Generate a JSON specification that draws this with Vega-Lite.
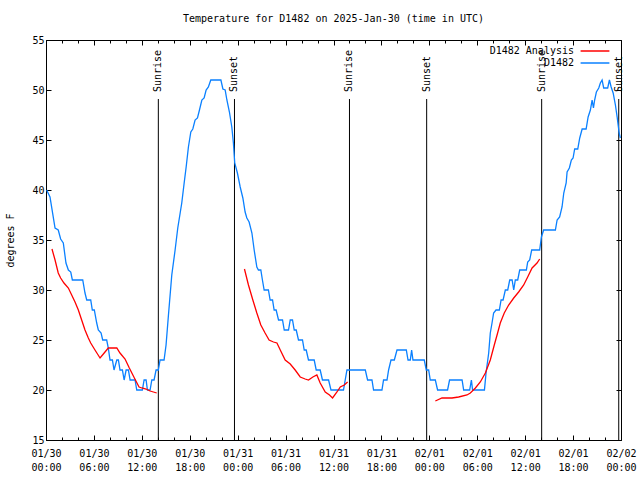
{
  "$schema": "https://vega.github.io/schema/vega-lite/v6.json",
  "width": 575,
  "height": 400,
  "autosize": "none",
  "padding": {"left": 46, "top": 40, "right": 19, "bottom": 40},
  "background": "white",
  "title": {"text": "Temperature for D1482 on 2025-Jan-30 (time in UTC)", "font": "DejaVu Sans Mono", "fontSize": 10, "fontWeight": "normal", "color": "black", "offset": 11, "anchor": "middle"},
  "config": {
    "view": {"stroke": "black", "strokeWidth": 1},
    "axis": {"labelFont": "DejaVu Sans Mono", "labelFontSize": 10, "labelColor": "black", "titleFont": "DejaVu Sans Mono", "titleFontSize": 10, "titleFontWeight": "normal", "titleColor": "black", "tickColor": "black", "domain": false, "grid": false, "labelFlush": false, "labelOverlap": false},
    "legend": {"labelFont": "DejaVu Sans Mono", "labelFontSize": 10, "labelColor": "black"}
  },
  "datasets": {
    "series": [
      {"t": "2025-01-30T00:05:00Z", "v": 40, "s": "D1482", "g": "b"},
      {"t": "2025-01-30T00:30:00Z", "v": 39.3, "s": "D1482", "g": "b"},
      {"t": "2025-01-30T01:08:00Z", "v": 36.2, "s": "D1482", "g": "b"},
      {"t": "2025-01-30T01:32:00Z", "v": 36, "s": "D1482", "g": "b"},
      {"t": "2025-01-30T01:50:00Z", "v": 35.1, "s": "D1482", "g": "b"},
      {"t": "2025-01-30T02:10:00Z", "v": 34.7, "s": "D1482", "g": "b"},
      {"t": "2025-01-30T02:30:00Z", "v": 32.7, "s": "D1482", "g": "b"},
      {"t": "2025-01-30T02:48:00Z", "v": 32, "s": "D1482", "g": "b"},
      {"t": "2025-01-30T03:06:00Z", "v": 31.8, "s": "D1482", "g": "b"},
      {"t": "2025-01-30T03:18:00Z", "v": 31, "s": "D1482", "g": "b"},
      {"t": "2025-01-30T04:36:00Z", "v": 31, "s": "D1482", "g": "b"},
      {"t": "2025-01-30T04:53:00Z", "v": 29.7, "s": "D1482", "g": "b"},
      {"t": "2025-01-30T05:06:00Z", "v": 29, "s": "D1482", "g": "b"},
      {"t": "2025-01-30T05:36:00Z", "v": 29, "s": "D1482", "g": "b"},
      {"t": "2025-01-30T05:48:00Z", "v": 28, "s": "D1482", "g": "b"},
      {"t": "2025-01-30T06:03:00Z", "v": 28, "s": "D1482", "g": "b"},
      {"t": "2025-01-30T06:21:00Z", "v": 26.7, "s": "D1482", "g": "b"},
      {"t": "2025-01-30T06:33:00Z", "v": 26, "s": "D1482", "g": "b"},
      {"t": "2025-01-30T06:54:00Z", "v": 25.7, "s": "D1482", "g": "b"},
      {"t": "2025-01-30T07:06:00Z", "v": 25, "s": "D1482", "g": "b"},
      {"t": "2025-01-30T07:36:00Z", "v": 25, "s": "D1482", "g": "b"},
      {"t": "2025-01-30T07:48:00Z", "v": 24.2, "s": "D1482", "g": "b"},
      {"t": "2025-01-30T08:01:00Z", "v": 23, "s": "D1482", "g": "b"},
      {"t": "2025-01-30T08:19:00Z", "v": 23, "s": "D1482", "g": "b"},
      {"t": "2025-01-30T08:31:00Z", "v": 22, "s": "D1482", "g": "b"},
      {"t": "2025-01-30T08:52:00Z", "v": 23, "s": "D1482", "g": "b"},
      {"t": "2025-01-30T09:04:00Z", "v": 23, "s": "D1482", "g": "b"},
      {"t": "2025-01-30T09:16:00Z", "v": 22, "s": "D1482", "g": "b"},
      {"t": "2025-01-30T09:34:00Z", "v": 22, "s": "D1482", "g": "b"},
      {"t": "2025-01-30T09:47:00Z", "v": 21, "s": "D1482", "g": "b"},
      {"t": "2025-01-30T10:02:00Z", "v": 22, "s": "D1482", "g": "b"},
      {"t": "2025-01-30T10:19:00Z", "v": 22, "s": "D1482", "g": "b"},
      {"t": "2025-01-30T10:32:00Z", "v": 21, "s": "D1482", "g": "b"},
      {"t": "2025-01-30T11:09:00Z", "v": 21, "s": "D1482", "g": "b"},
      {"t": "2025-01-30T11:22:00Z", "v": 20, "s": "D1482", "g": "b"},
      {"t": "2025-01-30T12:04:00Z", "v": 20, "s": "D1482", "g": "b"},
      {"t": "2025-01-30T12:17:00Z", "v": 21, "s": "D1482", "g": "b"},
      {"t": "2025-01-30T12:32:00Z", "v": 21, "s": "D1482", "g": "b"},
      {"t": "2025-01-30T12:42:00Z", "v": 20, "s": "D1482", "g": "b"},
      {"t": "2025-01-30T13:02:00Z", "v": 20, "s": "D1482", "g": "b"},
      {"t": "2025-01-30T13:15:00Z", "v": 21, "s": "D1482", "g": "b"},
      {"t": "2025-01-30T13:32:00Z", "v": 21, "s": "D1482", "g": "b"},
      {"t": "2025-01-30T13:47:00Z", "v": 22, "s": "D1482", "g": "b"},
      {"t": "2025-01-30T14:04:00Z", "v": 22, "s": "D1482", "g": "b"},
      {"t": "2025-01-30T14:17:00Z", "v": 23, "s": "D1482", "g": "b"},
      {"t": "2025-01-30T14:47:00Z", "v": 23, "s": "D1482", "g": "b"},
      {"t": "2025-01-30T15:02:00Z", "v": 24.5, "s": "D1482", "g": "b"},
      {"t": "2025-01-30T15:20:00Z", "v": 27.5, "s": "D1482", "g": "b"},
      {"t": "2025-01-30T15:45:00Z", "v": 31.5, "s": "D1482", "g": "b"},
      {"t": "2025-01-30T16:10:00Z", "v": 34, "s": "D1482", "g": "b"},
      {"t": "2025-01-30T16:30:00Z", "v": 36.2, "s": "D1482", "g": "b"},
      {"t": "2025-01-30T16:48:00Z", "v": 37.7, "s": "D1482", "g": "b"},
      {"t": "2025-01-30T17:00:00Z", "v": 38.7, "s": "D1482", "g": "b"},
      {"t": "2025-01-30T17:18:00Z", "v": 40.7, "s": "D1482", "g": "b"},
      {"t": "2025-01-30T17:33:00Z", "v": 42.3, "s": "D1482", "g": "b"},
      {"t": "2025-01-30T17:50:00Z", "v": 44.3, "s": "D1482", "g": "b"},
      {"t": "2025-01-30T18:08:00Z", "v": 45.8, "s": "D1482", "g": "b"},
      {"t": "2025-01-30T18:23:00Z", "v": 46.1, "s": "D1482", "g": "b"},
      {"t": "2025-01-30T18:40:00Z", "v": 47, "s": "D1482", "g": "b"},
      {"t": "2025-01-30T18:58:00Z", "v": 47.2, "s": "D1482", "g": "b"},
      {"t": "2025-01-30T19:13:00Z", "v": 48, "s": "D1482", "g": "b"},
      {"t": "2025-01-30T19:31:00Z", "v": 49, "s": "D1482", "g": "b"},
      {"t": "2025-01-30T19:48:00Z", "v": 49.2, "s": "D1482", "g": "b"},
      {"t": "2025-01-30T20:03:00Z", "v": 50, "s": "D1482", "g": "b"},
      {"t": "2025-01-30T20:20:00Z", "v": 50.3, "s": "D1482", "g": "b"},
      {"t": "2025-01-30T20:38:00Z", "v": 51, "s": "D1482", "g": "b"},
      {"t": "2025-01-30T21:54:00Z", "v": 51, "s": "D1482", "g": "b"},
      {"t": "2025-01-30T22:09:00Z", "v": 50.1, "s": "D1482", "g": "b"},
      {"t": "2025-01-30T22:26:00Z", "v": 50, "s": "D1482", "g": "b"},
      {"t": "2025-01-30T22:39:00Z", "v": 49, "s": "D1482", "g": "b"},
      {"t": "2025-01-30T22:58:00Z", "v": 47.8, "s": "D1482", "g": "b"},
      {"t": "2025-01-30T23:16:00Z", "v": 46.3, "s": "D1482", "g": "b"},
      {"t": "2025-01-30T23:28:00Z", "v": 44.7, "s": "D1482", "g": "b"},
      {"t": "2025-01-30T23:38:00Z", "v": 42.7, "s": "D1482", "g": "b"},
      {"t": "2025-01-30T23:58:00Z", "v": 41.7, "s": "D1482", "g": "b"},
      {"t": "2025-01-31T00:19:00Z", "v": 40.3, "s": "D1482", "g": "b"},
      {"t": "2025-01-31T00:39:00Z", "v": 39.2, "s": "D1482", "g": "b"},
      {"t": "2025-01-31T00:56:00Z", "v": 37.8, "s": "D1482", "g": "b"},
      {"t": "2025-01-31T01:09:00Z", "v": 37.2, "s": "D1482", "g": "b"},
      {"t": "2025-01-31T01:26:00Z", "v": 36.8, "s": "D1482", "g": "b"},
      {"t": "2025-01-31T01:47:00Z", "v": 35.7, "s": "D1482", "g": "b"},
      {"t": "2025-01-31T02:04:00Z", "v": 34, "s": "D1482", "g": "b"},
      {"t": "2025-01-31T02:24:00Z", "v": 32.3, "s": "D1482", "g": "b"},
      {"t": "2025-01-31T02:36:00Z", "v": 32, "s": "D1482", "g": "b"},
      {"t": "2025-01-31T02:54:00Z", "v": 32, "s": "D1482", "g": "b"},
      {"t": "2025-01-31T03:06:00Z", "v": 31, "s": "D1482", "g": "b"},
      {"t": "2025-01-31T03:19:00Z", "v": 30, "s": "D1482", "g": "b"},
      {"t": "2025-01-31T03:51:00Z", "v": 30, "s": "D1482", "g": "b"},
      {"t": "2025-01-31T04:04:00Z", "v": 29, "s": "D1482", "g": "b"},
      {"t": "2025-01-31T04:22:00Z", "v": 29, "s": "D1482", "g": "b"},
      {"t": "2025-01-31T04:34:00Z", "v": 28, "s": "D1482", "g": "b"},
      {"t": "2025-01-31T04:49:00Z", "v": 28, "s": "D1482", "g": "b"},
      {"t": "2025-01-31T05:07:00Z", "v": 27, "s": "D1482", "g": "b"},
      {"t": "2025-01-31T05:37:00Z", "v": 27, "s": "D1482", "g": "b"},
      {"t": "2025-01-31T05:50:00Z", "v": 26, "s": "D1482", "g": "b"},
      {"t": "2025-01-31T06:22:00Z", "v": 26, "s": "D1482", "g": "b"},
      {"t": "2025-01-31T06:35:00Z", "v": 27, "s": "D1482", "g": "b"},
      {"t": "2025-01-31T06:52:00Z", "v": 27, "s": "D1482", "g": "b"},
      {"t": "2025-01-31T07:05:00Z", "v": 26, "s": "D1482", "g": "b"},
      {"t": "2025-01-31T07:20:00Z", "v": 26, "s": "D1482", "g": "b"},
      {"t": "2025-01-31T07:37:00Z", "v": 25, "s": "D1482", "g": "b"},
      {"t": "2025-01-31T08:07:00Z", "v": 25, "s": "D1482", "g": "b"},
      {"t": "2025-01-31T08:20:00Z", "v": 24, "s": "D1482", "g": "b"},
      {"t": "2025-01-31T08:35:00Z", "v": 24, "s": "D1482", "g": "b"},
      {"t": "2025-01-31T08:52:00Z", "v": 23, "s": "D1482", "g": "b"},
      {"t": "2025-01-31T09:35:00Z", "v": 23, "s": "D1482", "g": "b"},
      {"t": "2025-01-31T09:50:00Z", "v": 22, "s": "D1482", "g": "b"},
      {"t": "2025-01-31T10:20:00Z", "v": 22, "s": "D1482", "g": "b"},
      {"t": "2025-01-31T10:37:00Z", "v": 21, "s": "D1482", "g": "b"},
      {"t": "2025-01-31T11:23:00Z", "v": 21, "s": "D1482", "g": "b"},
      {"t": "2025-01-31T11:41:00Z", "v": 20, "s": "D1482", "g": "b"},
      {"t": "2025-01-31T13:15:00Z", "v": 20, "s": "D1482", "g": "b"},
      {"t": "2025-01-31T13:28:00Z", "v": 21, "s": "D1482", "g": "b"},
      {"t": "2025-01-31T13:41:00Z", "v": 22, "s": "D1482", "g": "b"},
      {"t": "2025-01-31T15:59:00Z", "v": 22, "s": "D1482", "g": "b"},
      {"t": "2025-01-31T16:16:00Z", "v": 21, "s": "D1482", "g": "b"},
      {"t": "2025-01-31T16:49:00Z", "v": 21, "s": "D1482", "g": "b"},
      {"t": "2025-01-31T17:01:00Z", "v": 20, "s": "D1482", "g": "b"},
      {"t": "2025-01-31T18:04:00Z", "v": 20, "s": "D1482", "g": "b"},
      {"t": "2025-01-31T18:16:00Z", "v": 21, "s": "D1482", "g": "b"},
      {"t": "2025-01-31T18:42:00Z", "v": 21, "s": "D1482", "g": "b"},
      {"t": "2025-01-31T18:54:00Z", "v": 22, "s": "D1482", "g": "b"},
      {"t": "2025-01-31T19:12:00Z", "v": 23, "s": "D1482", "g": "b"},
      {"t": "2025-01-31T19:37:00Z", "v": 23, "s": "D1482", "g": "b"},
      {"t": "2025-01-31T19:57:00Z", "v": 24, "s": "D1482", "g": "b"},
      {"t": "2025-01-31T21:07:00Z", "v": 24, "s": "D1482", "g": "b"},
      {"t": "2025-01-31T21:20:00Z", "v": 23, "s": "D1482", "g": "b"},
      {"t": "2025-01-31T21:37:00Z", "v": 23, "s": "D1482", "g": "b"},
      {"t": "2025-01-31T21:47:00Z", "v": 24, "s": "D1482", "g": "b"},
      {"t": "2025-01-31T21:57:00Z", "v": 23, "s": "D1482", "g": "b"},
      {"t": "2025-01-31T23:22:00Z", "v": 23, "s": "D1482", "g": "b"},
      {"t": "2025-01-31T23:37:00Z", "v": 22, "s": "D1482", "g": "b"},
      {"t": "2025-01-31T23:55:00Z", "v": 22, "s": "D1482", "g": "b"},
      {"t": "2025-02-01T00:07:00Z", "v": 21, "s": "D1482", "g": "b"},
      {"t": "2025-02-01T00:45:00Z", "v": 21, "s": "D1482", "g": "b"},
      {"t": "2025-02-01T01:02:00Z", "v": 20, "s": "D1482", "g": "b"},
      {"t": "2025-02-01T02:17:00Z", "v": 20, "s": "D1482", "g": "b"},
      {"t": "2025-02-01T02:32:00Z", "v": 21, "s": "D1482", "g": "b"},
      {"t": "2025-02-01T04:06:00Z", "v": 21, "s": "D1482", "g": "b"},
      {"t": "2025-02-01T04:18:00Z", "v": 20, "s": "D1482", "g": "b"},
      {"t": "2025-02-01T05:03:00Z", "v": 20, "s": "D1482", "g": "b"},
      {"t": "2025-02-01T05:16:00Z", "v": 21, "s": "D1482", "g": "b"},
      {"t": "2025-02-01T05:25:00Z", "v": 20, "s": "D1482", "g": "b"},
      {"t": "2025-02-01T06:54:00Z", "v": 20, "s": "D1482", "g": "b"},
      {"t": "2025-02-01T07:06:00Z", "v": 21.7, "s": "D1482", "g": "b"},
      {"t": "2025-02-01T07:26:00Z", "v": 23.7, "s": "D1482", "g": "b"},
      {"t": "2025-02-01T07:38:00Z", "v": 25.7, "s": "D1482", "g": "b"},
      {"t": "2025-02-01T07:51:00Z", "v": 26.7, "s": "D1482", "g": "b"},
      {"t": "2025-02-01T08:03:00Z", "v": 27.7, "s": "D1482", "g": "b"},
      {"t": "2025-02-01T08:21:00Z", "v": 28, "s": "D1482", "g": "b"},
      {"t": "2025-02-01T08:46:00Z", "v": 28, "s": "D1482", "g": "b"},
      {"t": "2025-02-01T08:59:00Z", "v": 29, "s": "D1482", "g": "b"},
      {"t": "2025-02-01T09:14:00Z", "v": 29, "s": "D1482", "g": "b"},
      {"t": "2025-02-01T09:31:00Z", "v": 30, "s": "D1482", "g": "b"},
      {"t": "2025-02-01T09:49:00Z", "v": 30, "s": "D1482", "g": "b"},
      {"t": "2025-02-01T10:04:00Z", "v": 31, "s": "D1482", "g": "b"},
      {"t": "2025-02-01T10:22:00Z", "v": 31, "s": "D1482", "g": "b"},
      {"t": "2025-02-01T10:34:00Z", "v": 30, "s": "D1482", "g": "b"},
      {"t": "2025-02-01T10:46:00Z", "v": 31, "s": "D1482", "g": "b"},
      {"t": "2025-02-01T11:04:00Z", "v": 31, "s": "D1482", "g": "b"},
      {"t": "2025-02-01T11:19:00Z", "v": 32, "s": "D1482", "g": "b"},
      {"t": "2025-02-01T12:09:00Z", "v": 32, "s": "D1482", "g": "b"},
      {"t": "2025-02-01T12:19:00Z", "v": 32.8, "s": "D1482", "g": "b"},
      {"t": "2025-02-01T12:34:00Z", "v": 33, "s": "D1482", "g": "b"},
      {"t": "2025-02-01T12:49:00Z", "v": 34, "s": "D1482", "g": "b"},
      {"t": "2025-02-01T13:49:00Z", "v": 34, "s": "D1482", "g": "b"},
      {"t": "2025-02-01T14:02:00Z", "v": 35.3, "s": "D1482", "g": "b"},
      {"t": "2025-02-01T14:19:00Z", "v": 36, "s": "D1482", "g": "b"},
      {"t": "2025-02-01T15:47:00Z", "v": 36, "s": "D1482", "g": "b"},
      {"t": "2025-02-01T16:00:00Z", "v": 37, "s": "D1482", "g": "b"},
      {"t": "2025-02-01T16:19:00Z", "v": 37.3, "s": "D1482", "g": "b"},
      {"t": "2025-02-01T16:37:00Z", "v": 38.3, "s": "D1482", "g": "b"},
      {"t": "2025-02-01T16:50:00Z", "v": 39.7, "s": "D1482", "g": "b"},
      {"t": "2025-02-01T17:08:00Z", "v": 40.7, "s": "D1482", "g": "b"},
      {"t": "2025-02-01T17:15:00Z", "v": 41.8, "s": "D1482", "g": "b"},
      {"t": "2025-02-01T17:32:00Z", "v": 42.2, "s": "D1482", "g": "b"},
      {"t": "2025-02-01T17:47:00Z", "v": 43, "s": "D1482", "g": "b"},
      {"t": "2025-02-01T18:00:00Z", "v": 43.2, "s": "D1482", "g": "b"},
      {"t": "2025-02-01T18:12:00Z", "v": 44.1, "s": "D1482", "g": "b"},
      {"t": "2025-02-01T18:35:00Z", "v": 44.1, "s": "D1482", "g": "b"},
      {"t": "2025-02-01T18:50:00Z", "v": 45.2, "s": "D1482", "g": "b"},
      {"t": "2025-02-01T19:08:00Z", "v": 46.1, "s": "D1482", "g": "b"},
      {"t": "2025-02-01T19:38:00Z", "v": 46.1, "s": "D1482", "g": "b"},
      {"t": "2025-02-01T19:53:00Z", "v": 47.3, "s": "D1482", "g": "b"},
      {"t": "2025-02-01T20:10:00Z", "v": 48, "s": "D1482", "g": "b"},
      {"t": "2025-02-01T20:23:00Z", "v": 49, "s": "D1482", "g": "b"},
      {"t": "2025-02-01T20:33:00Z", "v": 48.2, "s": "D1482", "g": "b"},
      {"t": "2025-02-01T20:42:00Z", "v": 49, "s": "D1482", "g": "b"},
      {"t": "2025-02-01T20:55:00Z", "v": 49.8, "s": "D1482", "g": "b"},
      {"t": "2025-02-01T21:13:00Z", "v": 50.2, "s": "D1482", "g": "b"},
      {"t": "2025-02-01T21:25:00Z", "v": 50.7, "s": "D1482", "g": "b"},
      {"t": "2025-02-01T21:38:00Z", "v": 51, "s": "D1482", "g": "b"},
      {"t": "2025-02-01T21:50:00Z", "v": 50.2, "s": "D1482", "g": "b"},
      {"t": "2025-02-01T22:20:00Z", "v": 50.2, "s": "D1482", "g": "b"},
      {"t": "2025-02-01T22:33:00Z", "v": 51, "s": "D1482", "g": "b"},
      {"t": "2025-02-01T22:46:00Z", "v": 50.3, "s": "D1482", "g": "b"},
      {"t": "2025-02-01T23:01:00Z", "v": 49.7, "s": "D1482", "g": "b"},
      {"t": "2025-02-01T23:18:00Z", "v": 48.5, "s": "D1482", "g": "b"},
      {"t": "2025-02-01T23:31:00Z", "v": 47.3, "s": "D1482", "g": "b"},
      {"t": "2025-02-01T23:46:00Z", "v": 45.7, "s": "D1482", "g": "b"},
      {"t": "2025-02-01T23:55:00Z", "v": 45.2, "s": "D1482", "g": "b"},
      {"t": "2025-01-30T00:45:00Z", "v": 34.1, "s": "D1482 Analysis", "g": "r1"},
      {"t": "2025-01-30T01:08:00Z", "v": 33, "s": "D1482 Analysis", "g": "r1"},
      {"t": "2025-01-30T01:32:00Z", "v": 31.7, "s": "D1482 Analysis", "g": "r1"},
      {"t": "2025-01-30T01:50:00Z", "v": 31.2, "s": "D1482 Analysis", "g": "r1"},
      {"t": "2025-01-30T02:15:00Z", "v": 30.7, "s": "D1482 Analysis", "g": "r1"},
      {"t": "2025-01-30T02:48:00Z", "v": 30.2, "s": "D1482 Analysis", "g": "r1"},
      {"t": "2025-01-30T03:13:00Z", "v": 29.5, "s": "D1482 Analysis", "g": "r1"},
      {"t": "2025-01-30T03:38:00Z", "v": 28.8, "s": "D1482 Analysis", "g": "r1"},
      {"t": "2025-01-30T04:03:00Z", "v": 28, "s": "D1482 Analysis", "g": "r1"},
      {"t": "2025-01-30T04:28:00Z", "v": 27, "s": "D1482 Analysis", "g": "r1"},
      {"t": "2025-01-30T04:53:00Z", "v": 26, "s": "D1482 Analysis", "g": "r1"},
      {"t": "2025-01-30T05:18:00Z", "v": 25.2, "s": "D1482 Analysis", "g": "r1"},
      {"t": "2025-01-30T05:36:00Z", "v": 24.7, "s": "D1482 Analysis", "g": "r1"},
      {"t": "2025-01-30T06:08:00Z", "v": 24, "s": "D1482 Analysis", "g": "r1"},
      {"t": "2025-01-30T06:46:00Z", "v": 23.2, "s": "D1482 Analysis", "g": "r1"},
      {"t": "2025-01-30T07:11:00Z", "v": 23.6, "s": "D1482 Analysis", "g": "r1"},
      {"t": "2025-01-30T07:48:00Z", "v": 24.2, "s": "D1482 Analysis", "g": "r1"},
      {"t": "2025-01-30T08:52:00Z", "v": 24.2, "s": "D1482 Analysis", "g": "r1"},
      {"t": "2025-01-30T09:16:00Z", "v": 23.7, "s": "D1482 Analysis", "g": "r1"},
      {"t": "2025-01-30T09:54:00Z", "v": 23.1, "s": "D1482 Analysis", "g": "r1"},
      {"t": "2025-01-30T10:26:00Z", "v": 22.2, "s": "D1482 Analysis", "g": "r1"},
      {"t": "2025-01-30T11:04:00Z", "v": 21.2, "s": "D1482 Analysis", "g": "r1"},
      {"t": "2025-01-30T11:39:00Z", "v": 20.3, "s": "D1482 Analysis", "g": "r1"},
      {"t": "2025-01-30T12:00:00Z", "v": 20.2, "s": "D1482 Analysis", "g": "r1"},
      {"t": "2025-01-30T12:32:00Z", "v": 20.1, "s": "D1482 Analysis", "g": "r1"},
      {"t": "2025-01-30T13:02:00Z", "v": 19.9, "s": "D1482 Analysis", "g": "r1"},
      {"t": "2025-01-30T13:27:00Z", "v": 19.8, "s": "D1482 Analysis", "g": "r1"},
      {"t": "2025-01-30T13:52:00Z", "v": 19.7, "s": "D1482 Analysis", "g": "r1"},
      {"t": "2025-01-31T00:51:00Z", "v": 32.1, "s": "D1482 Analysis", "g": "r2"},
      {"t": "2025-01-31T01:21:00Z", "v": 30.5, "s": "D1482 Analysis", "g": "r2"},
      {"t": "2025-01-31T01:54:00Z", "v": 29, "s": "D1482 Analysis", "g": "r2"},
      {"t": "2025-01-31T02:24:00Z", "v": 27.7, "s": "D1482 Analysis", "g": "r2"},
      {"t": "2025-01-31T02:54:00Z", "v": 26.5, "s": "D1482 Analysis", "g": "r2"},
      {"t": "2025-01-31T03:26:00Z", "v": 25.7, "s": "D1482 Analysis", "g": "r2"},
      {"t": "2025-01-31T03:56:00Z", "v": 25, "s": "D1482 Analysis", "g": "r2"},
      {"t": "2025-01-31T04:29:00Z", "v": 24.8, "s": "D1482 Analysis", "g": "r2"},
      {"t": "2025-01-31T04:55:00Z", "v": 24.7, "s": "D1482 Analysis", "g": "r2"},
      {"t": "2025-01-31T05:20:00Z", "v": 24, "s": "D1482 Analysis", "g": "r2"},
      {"t": "2025-01-31T05:57:00Z", "v": 23, "s": "D1482 Analysis", "g": "r2"},
      {"t": "2025-01-31T06:35:00Z", "v": 22.6, "s": "D1482 Analysis", "g": "r2"},
      {"t": "2025-01-31T07:12:00Z", "v": 22, "s": "D1482 Analysis", "g": "r2"},
      {"t": "2025-01-31T07:50:00Z", "v": 21.3, "s": "D1482 Analysis", "g": "r2"},
      {"t": "2025-01-31T08:27:00Z", "v": 21.1, "s": "D1482 Analysis", "g": "r2"},
      {"t": "2025-01-31T08:52:00Z", "v": 21, "s": "D1482 Analysis", "g": "r2"},
      {"t": "2025-01-31T09:25:00Z", "v": 21.3, "s": "D1482 Analysis", "g": "r2"},
      {"t": "2025-01-31T09:55:00Z", "v": 21.5, "s": "D1482 Analysis", "g": "r2"},
      {"t": "2025-01-31T10:20:00Z", "v": 20.7, "s": "D1482 Analysis", "g": "r2"},
      {"t": "2025-01-31T10:58:00Z", "v": 19.8, "s": "D1482 Analysis", "g": "r2"},
      {"t": "2025-01-31T11:30:00Z", "v": 19.5, "s": "D1482 Analysis", "g": "r2"},
      {"t": "2025-01-31T11:53:00Z", "v": 19.2, "s": "D1482 Analysis", "g": "r2"},
      {"t": "2025-01-31T12:26:00Z", "v": 19.8, "s": "D1482 Analysis", "g": "r2"},
      {"t": "2025-01-31T12:51:00Z", "v": 20.3, "s": "D1482 Analysis", "g": "r2"},
      {"t": "2025-01-31T13:21:00Z", "v": 20.5, "s": "D1482 Analysis", "g": "r2"},
      {"t": "2025-01-31T13:46:00Z", "v": 20.8, "s": "D1482 Analysis", "g": "r2"},
      {"t": "2025-02-01T00:45:00Z", "v": 18.9, "s": "D1482 Analysis", "g": "r3"},
      {"t": "2025-02-01T01:35:00Z", "v": 19.2, "s": "D1482 Analysis", "g": "r3"},
      {"t": "2025-02-01T02:50:00Z", "v": 19.2, "s": "D1482 Analysis", "g": "r3"},
      {"t": "2025-02-01T03:40:00Z", "v": 19.3, "s": "D1482 Analysis", "g": "r3"},
      {"t": "2025-02-01T04:43:00Z", "v": 19.5, "s": "D1482 Analysis", "g": "r3"},
      {"t": "2025-02-01T05:08:00Z", "v": 19.7, "s": "D1482 Analysis", "g": "r3"},
      {"t": "2025-02-01T05:46:00Z", "v": 20.2, "s": "D1482 Analysis", "g": "r3"},
      {"t": "2025-02-01T06:23:00Z", "v": 20.8, "s": "D1482 Analysis", "g": "r3"},
      {"t": "2025-02-01T07:01:00Z", "v": 21.7, "s": "D1482 Analysis", "g": "r3"},
      {"t": "2025-02-01T07:38:00Z", "v": 23, "s": "D1482 Analysis", "g": "r3"},
      {"t": "2025-02-01T08:08:00Z", "v": 24.5, "s": "D1482 Analysis", "g": "r3"},
      {"t": "2025-02-01T08:33:00Z", "v": 25.7, "s": "D1482 Analysis", "g": "r3"},
      {"t": "2025-02-01T08:53:00Z", "v": 26.7, "s": "D1482 Analysis", "g": "r3"},
      {"t": "2025-02-01T09:23:00Z", "v": 27.7, "s": "D1482 Analysis", "g": "r3"},
      {"t": "2025-02-01T09:56:00Z", "v": 28.5, "s": "D1482 Analysis", "g": "r3"},
      {"t": "2025-02-01T10:34:00Z", "v": 29.2, "s": "D1482 Analysis", "g": "r3"},
      {"t": "2025-02-01T11:11:00Z", "v": 29.8, "s": "D1482 Analysis", "g": "r3"},
      {"t": "2025-02-01T11:49:00Z", "v": 30.5, "s": "D1482 Analysis", "g": "r3"},
      {"t": "2025-02-01T12:19:00Z", "v": 31.3, "s": "D1482 Analysis", "g": "r3"},
      {"t": "2025-02-01T12:52:00Z", "v": 32.2, "s": "D1482 Analysis", "g": "r3"},
      {"t": "2025-02-01T13:29:00Z", "v": 32.7, "s": "D1482 Analysis", "g": "r3"},
      {"t": "2025-02-01T13:49:00Z", "v": 33.1, "s": "D1482 Analysis", "g": "r3"}
    ],
    "events": [
      {"t": "2025-01-30T14:04:00Z", "ev": "Sunrise"},
      {"t": "2025-01-30T23:36:00Z", "ev": "Sunset"},
      {"t": "2025-01-31T14:00:00Z", "ev": "Sunrise"},
      {"t": "2025-01-31T23:40:00Z", "ev": "Sunset"},
      {"t": "2025-02-01T14:04:00Z", "ev": "Sunrise"},
      {"t": "2025-02-01T23:43:00Z", "ev": "Sunset"}
    ]
  },
  "resolve": {"axis": {"x": "independent", "y": "independent"}},
  "layer": [
    {
      "data": {"name": "events"},
      "mark": {"type": "rule", "color": "black", "strokeWidth": 1},
      "encoding": {
        "x": {"field": "t", "type": "temporal", "scale": {"type": "utc", "domain": [1738195200000, 1738454400000], "nice": false},
              "axis": {"orient": "top", "labels": false, "tickSize": -5, "title": null, "values": [1738195200000, 1738216800000, 1738238400000, 1738260000000, 1738281600000, 1738303200000, 1738324800000, 1738346400000, 1738368000000, 1738389600000, 1738411200000, 1738432800000, 1738454400000]}},
        "y": {"datum": 15, "type": "quantitative", "scale": {"domain": [15, 55], "nice": false, "zero": false}, "axis": null},
        "y2": {"datum": 49.1}
      }
    },
    {
      "data": {"name": "events"},
      "mark": {"type": "text", "angle": 270, "align": "left", "baseline": "middle", "font": "DejaVu Sans Mono", "fontSize": 10, "color": "black"},
      "encoding": {
        "x": {"field": "t", "type": "temporal", "scale": {"type": "utc"},
              "axis": {"orient": "bottom", "labels": false, "tickSize": -3, "title": null, "values": [1738195200000, 1738202400000, 1738209600000, 1738216800000, 1738224000000, 1738231200000, 1738238400000, 1738245600000, 1738252800000, 1738260000000, 1738267200000, 1738274400000, 1738281600000, 1738288800000, 1738296000000, 1738303200000, 1738310400000, 1738317600000, 1738324800000, 1738332000000, 1738339200000, 1738346400000, 1738353600000, 1738360800000, 1738368000000, 1738375200000, 1738382400000, 1738389600000, 1738396800000, 1738404000000, 1738411200000, 1738418400000, 1738425600000, 1738432800000, 1738440000000, 1738447200000, 1738454400000]}},
        "y": {"datum": 49.8, "type": "quantitative", "axis": null},
        "text": {"field": "ev"}
      }
    },
    {
      "data": {"name": "series"},
      "mark": {"type": "line", "strokeWidth": 1.3},
      "encoding": {
        "x": {"field": "t", "type": "temporal", "scale": {"type": "utc"},
              "axis": {"orient": "bottom", "title": null, "tickSize": -5, "labelPadding": 13, "labelLineHeight": 14, "labelBaseline": "top",
                       "values": [1738195200000, 1738216800000, 1738238400000, 1738260000000, 1738281600000, 1738303200000, 1738324800000, 1738346400000, 1738368000000, 1738389600000, 1738411200000, 1738432800000, 1738454400000],
                       "labelExpr": "[utcFormat(datum.value, '%m/%d'), utcFormat(datum.value, '%H:%M')]"}},
        "y": {"field": "v", "type": "quantitative",
              "axis": {"orient": "left", "values": [15, 20, 25, 30, 35, 40, 45, 50, 55], "tickSize": -5, "labelPadding": 7, "title": "degrees F", "titleAngle": 270, "titleX": -36, "titleY": 200, "titleAlign": "center", "titleBaseline": "middle"}},
        "color": {"field": "s", "type": "nominal", "scale": {"domain": ["D1482 Analysis", "D1482"], "range": ["#ff0000", "#0a80ff"]},
                  "legend": {"orient": "none", "legendX": 542, "legendY": 4, "title": null, "symbolType": "M-2.4,0H2.4", "symbolSize": 144, "symbolStrokeWidth": 1.5, "labelAlign": "right", "labelOffset": -28, "rowPadding": 0, "padding": 0}},
        "detail": {"field": "g"}
      }
    },
    {
      "data": {"name": "series"},
      "mark": {"type": "point", "opacity": 0},
      "encoding": {
        "x": {"field": "t", "type": "temporal", "scale": {"type": "utc"},
              "axis": {"orient": "top", "labels": false, "tickSize": -3, "title": null, "values": [1738195200000, 1738202400000, 1738209600000, 1738216800000, 1738224000000, 1738231200000, 1738238400000, 1738245600000, 1738252800000, 1738260000000, 1738267200000, 1738274400000, 1738281600000, 1738288800000, 1738296000000, 1738303200000, 1738310400000, 1738317600000, 1738324800000, 1738332000000, 1738339200000, 1738346400000, 1738353600000, 1738360800000, 1738368000000, 1738375200000, 1738382400000, 1738389600000, 1738396800000, 1738404000000, 1738411200000, 1738418400000, 1738425600000, 1738432800000, 1738440000000, 1738447200000, 1738454400000]}},
        "y": {"field": "v", "type": "quantitative", "axis": {"orient": "right", "labels": false, "tickSize": -5, "values": [15, 20, 25, 30, 35, 40, 45, 50, 55], "title": null}}
      }
    }
  ]
}
